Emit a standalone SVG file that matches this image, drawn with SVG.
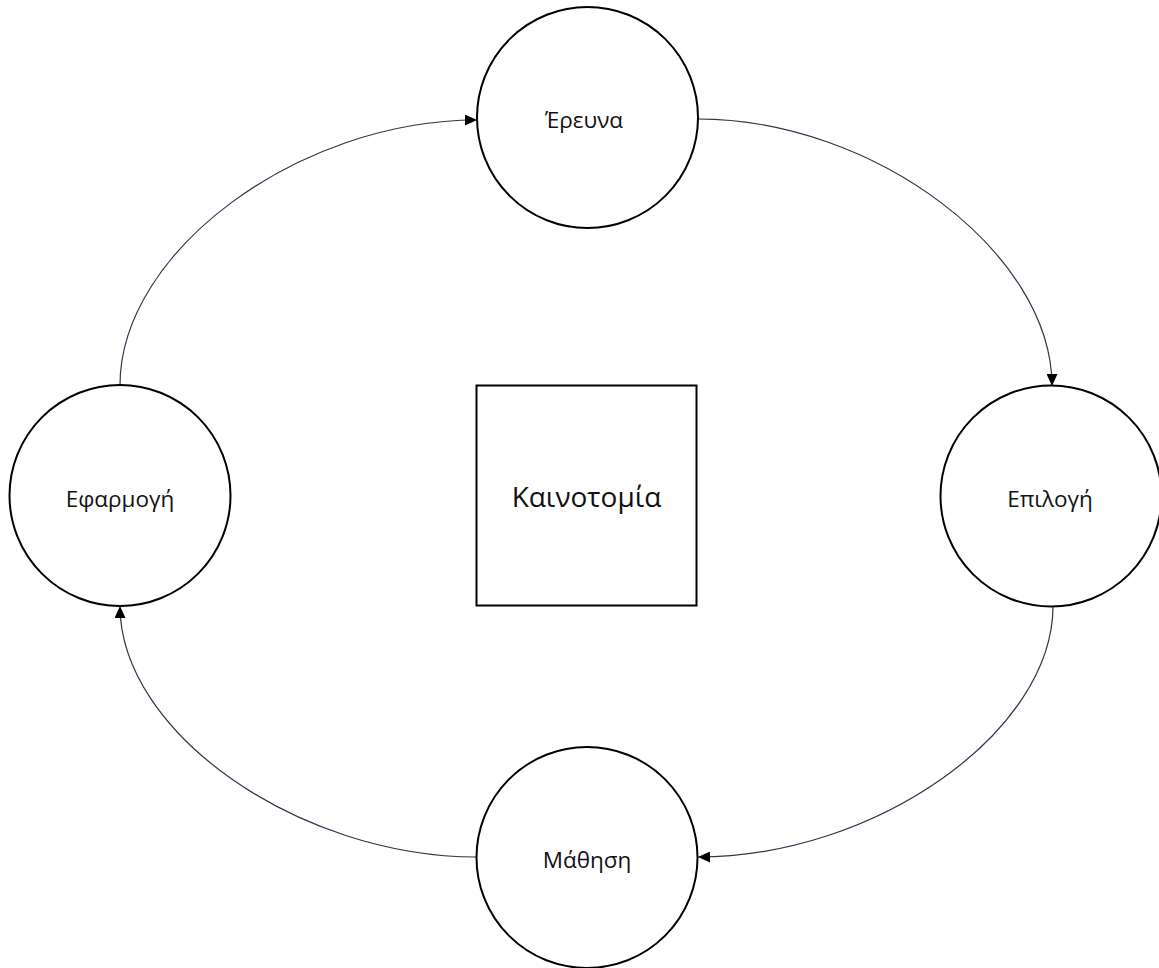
<svg xmlns="http://www.w3.org/2000/svg" width="1159" height="968" viewBox="0 0 1159 968">
  <style>
    .node { fill: #ffffff; stroke: #000000; stroke-width: 2; }
    .lbl { font-family: "Open Sans", "Noto Sans", "DejaVu Sans", sans-serif; font-size: 22.5px; fill: #111111; text-anchor: middle; }
    .big { font-size: 28px; }
    .conn { fill: none; stroke: #2b3648; stroke-width: 1.2; }
  </style>
  <defs>
    <marker id="arrow" viewBox="0 0 12 11" refX="12" refY="5.5" markerWidth="12" markerHeight="11" markerUnits="userSpaceOnUse" orient="auto">
      <path d="M0,0 L12,5.5 L0,11 Z" fill="#000000"/>
    </marker>
  </defs>
  <rect width="1159" height="968" fill="#ffffff"/>
  <g id="connectors">
    <path class="conn" d="M698,119 C874,119 1052,253 1052,386" marker-end="url(#arrow)"/>
    <path class="conn" d="M1053,606 C1053,732 875,857 698,857" marker-end="url(#arrow)"/>
    <path class="conn" d="M477,857 C298,857 120,732 120,606" marker-end="url(#arrow)"/>
    <path class="conn" d="M120,385 C120,252 298,120 477,120" marker-end="url(#arrow)"/>
  </g>
  <g id="node-erevna">
    <circle class="node" cx="587.5" cy="117.5" r="110.5"/>
    <text class="lbl" x="584" y="128">Έρευνα</text>
  </g>
  <g id="node-epilogi">
    <circle class="node" cx="1051" cy="496" r="110.5"/>
    <text class="lbl" x="1050" y="507">Επιλογή</text>
  </g>
  <g id="node-mathisi">
    <circle class="node" cx="587" cy="857.5" r="110.5"/>
    <text class="lbl" x="587" y="868">Μάθηση</text>
  </g>
  <g id="node-efarmogi">
    <circle class="node" cx="120" cy="495.5" r="110.5"/>
    <text class="lbl" x="120" y="507">Εφαρμογή</text>
  </g>
  <g id="node-kainotomia">
    <rect class="node" x="476.5" y="385.5" width="220" height="220"/>
    <text class="lbl big" x="586.5" y="507">Καινοτομία</text>
  </g>
</svg>
